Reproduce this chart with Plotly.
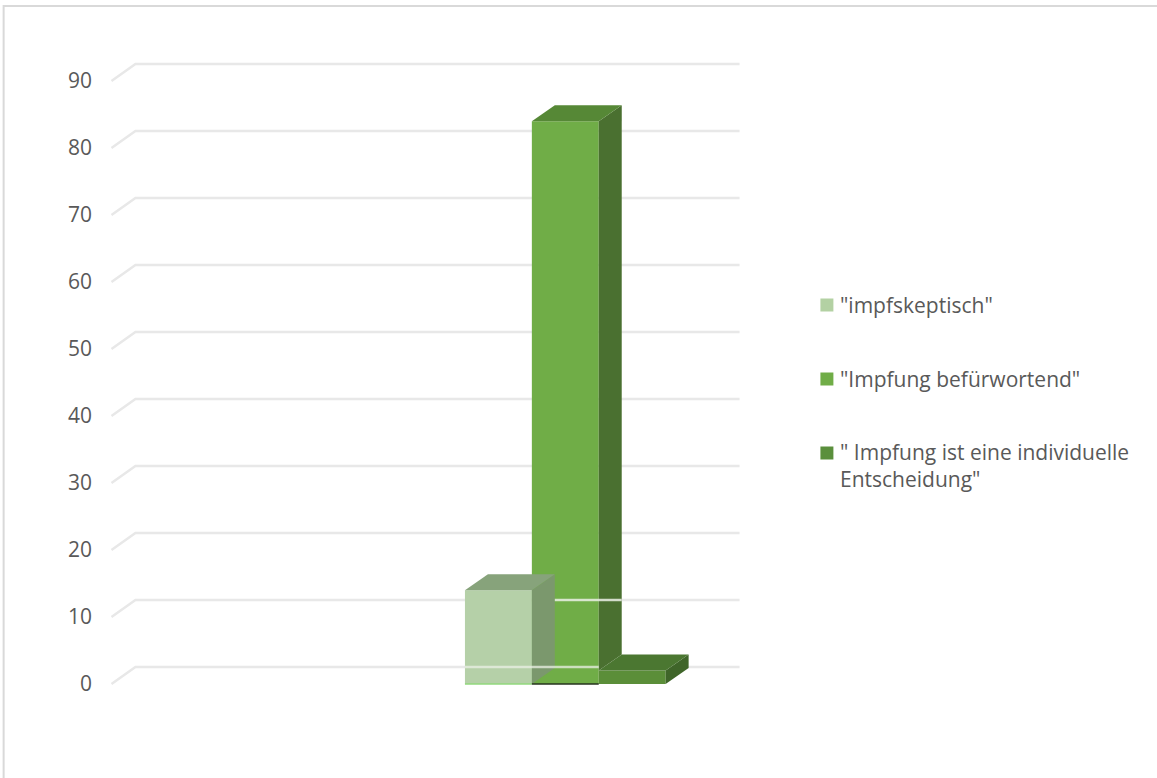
import plotly.graph_objects as go

# ---- data -------------------------------------------------------------
categories = [
    '"impfskeptisch"',
    '"Impfung befürwortend"',
    '" Impfung ist eine individuelle<br>Entscheidung"',
]
values = [14, 84, 2]
y_ticks = list(range(0, 100, 10))

# face colours per series (front / top / right side)
front_colors = ["#b5d0a8", "#70ad47", "#5b8e39"]
top_colors = ["#87a37b", "#568836", "#4b7731"]
side_colors = ["#7b986d", "#4a7030", "#3f6529"]
legend_colors = ["#b3d1a3", "#70ad47", "#5a8f3c"]
base_edge_colors = ["#92d97c", "#26331e", None]

# ---- layout geometry --------------------------------------------------
W, H = 1157, 778
M_L, M_R, M_T, M_B = 96.5, 390.5, 14, 27
X_RANGE = [-6, 4]
Y_RANGE = [-10, 100]
plot_w = W - M_L - M_R
plot_h = H - M_T - M_B
px_x = plot_w / (X_RANGE[1] - X_RANGE[0])
px_y = plot_h / (Y_RANGE[1] - Y_RANGE[0])

BAR_W = 1.0
BAR_DX, BAR_DY = 23 / px_x, 16 / px_y        # bar depth (perspective offset)
FLOOR_DX, FLOOR_DY = 24 / px_x, 17 / px_y    # wall depth
WALL_X0 = X_RANGE[0] + (111 - M_L) / px_x    # front edge of the side wall
WALL_X1 = X_RANGE[0] + (740 - M_L) / px_x    # right end of the back wall

TEXT = "#595959"
GRID = "#e8e8e8"
FONT = "Open Sans"


def paper_x(p):
    return (p - M_L) / plot_w


def paper_y(p):
    return (H - M_B - p) / plot_h


xs = list(range(len(values)))

fig = go.Figure()

# front faces of the columns
fig.add_trace(go.Bar(
    x=xs, y=values, width=BAR_W,
    marker=dict(color=front_colors, line=dict(width=0)),
    showlegend=False, hoverinfo="skip",
))


def poly(xp, yp, color):
    fig.add_trace(go.Scatter(
        x=xp + [xp[0]], y=yp + [yp[0]], mode="lines", fill="toself",
        fillcolor=color, line=dict(width=0, color=color),
        showlegend=False, hoverinfo="skip",
    ))


# top and side faces; the middle column first so its neighbours overlap it
for i in [1, 0, 2]:
    v = values[i]
    x0, x1 = xs[i] - BAR_W / 2, xs[i] + BAR_W / 2
    nxt = values[i + 1] if i + 1 < len(values) else 0
    base = nxt if nxt < v else 0
    poly([x1, x1, x1 + BAR_DX, x1 + BAR_DX],
         [base, v, v + BAR_DY, base + BAR_DY], side_colors[i])
    poly([x0, x1, x1 + BAR_DX, x0 + BAR_DX],
         [v, v, v + BAR_DY, v + BAR_DY], top_colors[i])

shapes = []
# gridlines on side wall and back wall
for t in y_ticks:
    shapes.append(dict(
        type="path", xref="x", yref="y", layer="below",
        path=f"M {WALL_X0},{t} L {WALL_X0 + FLOOR_DX},{t + FLOOR_DY} "
             f"L {WALL_X1},{t + FLOOR_DY}",
        line=dict(color=GRID, width=2.5),
    ))

# gridlines shining through the tall column
shapes.append(dict(
    type="line", xref="x", yref="y", layer="above",
    x0=xs[1] - BAR_W / 2 + BAR_DX, x1=xs[1] + BAR_W / 2 + BAR_DX,
    y0=10 + FLOOR_DY, y1=10 + FLOOR_DY,
    line=dict(color="rgba(235,240,230,0.85)", width=2.5),
))
shapes.append(dict(
    type="line", xref="x", yref="y", layer="above",
    x0=xs[0] - BAR_W / 2, x1=xs[1] + BAR_W / 2,
    y0=0 + FLOOR_DY, y1=0 + FLOOR_DY,
    line=dict(color="rgba(235,240,230,0.75)", width=2.5),
))

# thin base edges under the columns
for i, col in enumerate(base_edge_colors):
    if col is None:
        continue
    shapes.append(dict(
        type="line", xref="x", yref="y", layer="above",
        x0=xs[i] - BAR_W / 2, x1=xs[i] + BAR_W / 2, y0=0, y1=0,
        line=dict(color=col, width=1.5),
    ))

# chart border
shapes.append(dict(
    type="rect", xref="paper", yref="paper", layer="below",
    x0=paper_x(3), x1=paper_x(1200), y0=paper_y(820), y1=paper_y(6),
    line=dict(color="#d9d9d9", width=2), fillcolor="rgba(0,0,0,0)",
))

# legend
annotations = []
legend_y = [305, 379, 465]
icon_y = [305, 379, 453]
for name, col, ty, iy in zip(categories, legend_colors, legend_y, icon_y):
    shapes.append(dict(
        type="rect", xref="paper", yref="paper",
        x0=paper_x(821), x1=paper_x(834),
        y0=paper_y(iy + 6.5), y1=paper_y(iy - 6.5),
        fillcolor=col, line=dict(width=0),
    ))
    annotations.append(dict(
        xref="paper", yref="paper", x=paper_x(839), y=paper_y(ty),
        xanchor="left", yanchor="middle", align="left", showarrow=False,
        text=name, font=dict(family=FONT, size=21, color=TEXT),
    ))

fig.update_layout(
    width=W, height=H,
    margin=dict(l=M_L, r=M_R, t=M_T, b=M_B, pad=0),
    paper_bgcolor="white", plot_bgcolor="white",
    showlegend=False,
    shapes=shapes, annotations=annotations,
    xaxis=dict(range=X_RANGE, visible=False, fixedrange=True),
    yaxis=dict(
        range=Y_RANGE, tickvals=y_ticks, ticks="", showgrid=False,
        zeroline=False, showline=False, ticklabelstandoff=4,
        tickfont=dict(family=FONT, size=21, color=TEXT), fixedrange=True,
    ),
)

fig.write_html("out.html")
